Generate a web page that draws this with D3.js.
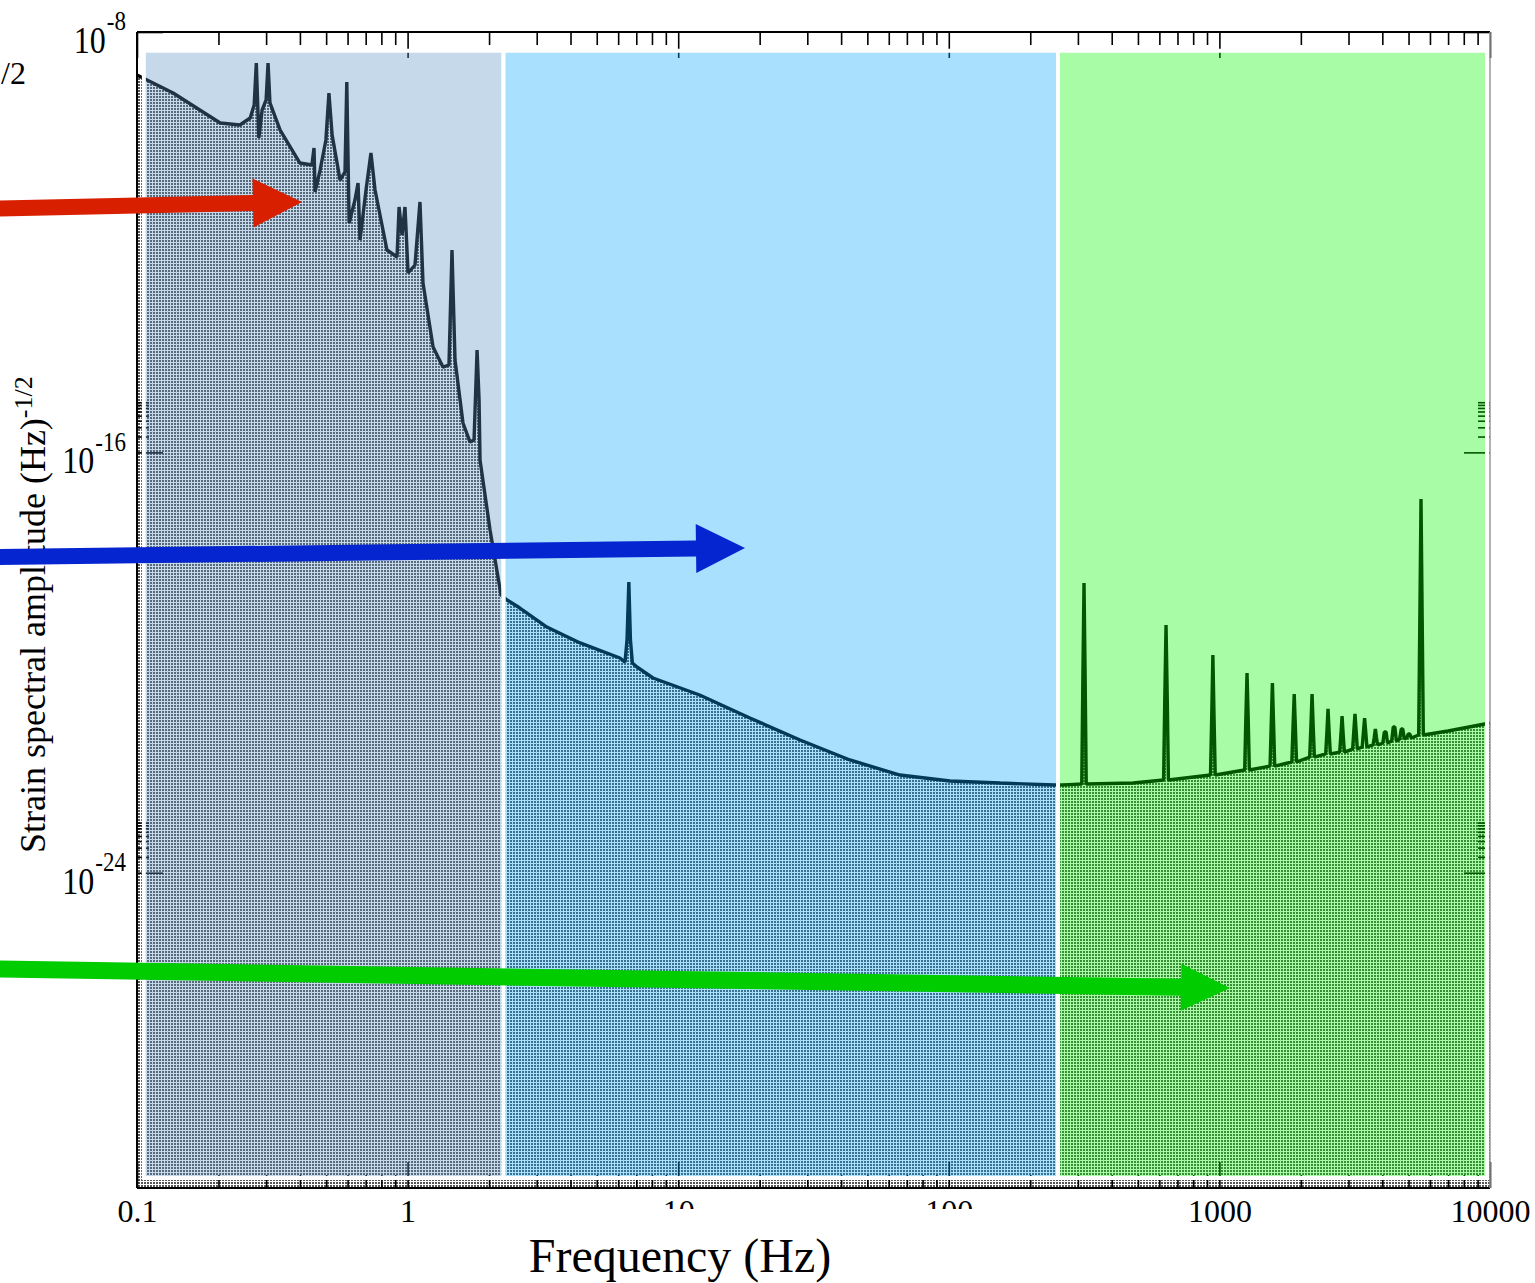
<!DOCTYPE html>
<html><head><meta charset="utf-8">
<script src="https://cdn.jsdelivr.net/npm/d3@7"></script>
<style>html,body{margin:0;padding:0;background:#fff;overflow:hidden}svg{display:block}</style>
</head><body>
<svg id="chart" width="1535" height="1283"></svg>
<script>
// ---------- data ----------
const lowFreq = [0.100,0.136,0.203,0.240,0.262,0.271,0.276,0.282,0.290,0.300,0.305,0.310,0.338,0.400,0.443,0.451,0.455,0.475,0.499,0.512,0.526,0.563,0.587,0.596,0.608,0.639,0.656,0.667,0.702,0.732,0.758,0.839,0.914,0.930,0.954,0.978,1.004,1.065,1.111,1.140,1.242,1.351,1.422,1.459,1.497,1.602,1.701,1.760,1.806,1.837,1.852,2.017,2.214];
const lowAmp = [1.52e-9,6.90e-10,1.85e-10,1.70e-10,2.31e-10,4.08e-10,2.57e-9,9.61e-11,3.28e-10,5.08e-10,2.57e-9,4.46e-10,1.36e-10,3.21e-11,2.94e-11,6.20e-11,9.02e-12,2.36e-11,8.81e-11,6.90e-10,1.10e-10,1.52e-11,2.17e-11,1.12e-9,2.32e-12,6.35e-12,1.34e-11,1.10e-12,9.84e-12,4.98e-11,9.84e-12,7.10e-13,5.22e-13,4.68e-12,1.37e-12,4.68e-12,2.59e-13,3.68e-13,5.82e-12,1.67e-13,1.01e-14,4.21e-15,4.60e-15,7.10e-13,5.73e-15,3.62e-16,1.57e-16,1.72e-16,8.87e-15,9.91e-16,7.16e-17,3.33e-18,1.93e-19];

const midFreq = [2.33,2.60,3.27,4.34,6.09,6.36,6.47,6.57,6.66,6.77,7.04,8.07,12.0,18.4,28.2,43.1,66.0,101,155,247];
const midAmp = [1.55e-19,1.09e-19,4.74e-20,2.36e-20,1.22e-20,1.02e-20,2.69e-20,3.41e-19,2.69e-20,9.8e-21,8.22e-21,5.08e-21,2.41e-21,8.79e-22,3.36e-22,1.40e-22,7.24e-23,5.57e-23,5.09e-23,4.67e-23];

const highFreq = [262,290,
  310,313,316,319,322, 480,
  622,628,635,642,648,
  927,937,946,955,965,
  1240,1252,1265,1278,1290,
  1539,1554,1570,1586,1601,
  1852,1871,1890,1909,1928,
  2156,2178,2200,2222,2244,
  2470,2495,2520,2545,2570,
  2783,2812,2840,2868,2897,
  3107,3138,3170,3202,3233,
  3371,3406,3440,3474,3509,
  3695,3732,3770,3808,3845,
  4018,4070,4130,4182,
  4332,4390,4450,4508,
  4635,4700,4760,4825,
  4920,4990,5050,5120,
  5450,5505,5560,5615,5670,
  7000,10000];
const highAmp = [4.67e-23,4.8e-23,
  4.88e-23,5.31e-21,3.27e-19,5.31e-21,4.88e-23, 5.09e-23,
  5.82e-23,1.70e-21,5.18e-20,1.70e-21,5.82e-23,
  7.24e-23,1.0e-21,1.39e-20,1.0e-21,7.24e-23,
  9.02e-23,8.05e-22,6.32e-21,8.05e-22,9.02e-23,
  1.07e-22,6.47e-22,4.08e-21,6.47e-22,1.07e-22,
  1.28e-22,5.93e-22,2.52e-21,5.93e-22,1.28e-22,
  1.59e-22,5.93e-22,2.52e-21,5.93e-22,1.59e-22,
  1.82e-22,4.56e-22,1.31e-21,4.56e-22,1.82e-22,
  1.98e-22,4.18e-22,9.59e-22,4.18e-22,1.98e-22,
  2.26e-22,4.98e-22,1.05e-21,4.98e-22,2.26e-22,
  2.47e-22,4.76e-22,8.79e-22,4.76e-22,2.47e-22,
  2.70e-22,3.66e-22,5.43e-22,3.66e-22,2.70e-22,
  2.94e-22,4.76e-22,4.76e-22,2.94e-22,
  3.21e-22,5.93e-22,5.93e-22,3.21e-22,
  3.51e-22,5.43e-22,5.43e-22,3.51e-22,
  3.66e-22,4.37e-22,4.37e-22,3.66e-22,
  4.18e-22,7.05e-20,1.29e-17,7.05e-20,4.18e-22,
  4.98e-22,7.06e-22];

// frequency bands (shaded regions)
const bandStart = [0.106, 2.262, 253.3];
const bandEnd = [2.262, 253.3, 9750];
const bandTop = 4.4e-9;
const bandBottom = 1.55e-30;
const bandColors = ["#5992c3", "#06a6f9", "#06f600"];

// ticks
const xMajor = [0.1, 1, 10, 100, 1000, 10000];
const xTickLabels = ["0.1", "1", "10", "100", "1000", "10000"];
const yMajor = [1e-8, 1e-16, 1e-24];
const yTickExp = ["-8", "-16", "-24"];

// ---------- drawing ----------
const FONT = "'Liberation Serif','Times New Roman',serif";
const svg = d3.select("#chart");
const x = d3.scaleLog().domain([0.1, 10000]).range([137, 1490]);
const y = d3.scaleLog().domain([1e-30, 1e-8]).range([1188, 32]);

svg.append("rect").attr("width", 1535).attr("height", 1283).attr("fill", "#fff");

const defs = svg.append("defs");
const pat = defs.append("pattern").attr("id", "dots").attr("patternUnits", "userSpaceOnUse")
  .attr("width", 3).attr("height", 3);
pat.append("rect").attr("x", 0).attr("y", 0).attr("width", 2).attr("height", 2).attr("fill", "#555");
// clip for the x tick labels hidden by the title area
defs.append("clipPath").attr("id", "tickclip").append("path")
  .attr("d", "M0,1188 H1535 V1283 H1005 V1209 H515 V1283 H0 Z");

const series = [];
lowFreq.forEach((f, i) => series.push({f, a: lowAmp[i]}));
midFreq.forEach((f, i) => series.push({f, a: midAmp[i]}));
highFreq.forEach((f, i) => series.push({f, a: highAmp[i]}));

const area = d3.area().x(d => x(d.f)).y0(y(1e-30)).y1(d => y(d.a));
svg.append("path").datum(series).attr("d", area).attr("fill", "url(#dots)");

const line = d3.line().x(d => x(d.f)).y(d => y(d.a));
svg.append("path").datum(series).attr("d", line).attr("fill", "none")
  .attr("stroke", "#000").attr("stroke-width", 3.4).attr("stroke-linejoin", "bevel");

// axes (ticks)
const xMinor = x.ticks().filter(t => !xMajor.some(m => Math.abs(m - t) / m < 1e-6));
const yMinor = yMajor.flatMap(m => [2,3,4,5,6,7,8,9].map(k => k * m)).filter(v => v <= 1e-8 * 1.0001 && v >= 1e-30);

function styleAxis(g) {
  g.select(".domain").remove();
  g.selectAll("line").attr("stroke", "#000").attr("stroke-width", 1.6);
}
function addAxis(gen, tx, ty) {
  return svg.append("g").attr("transform", `translate(${tx},${ty})`).call(gen).call(styleAxis);
}
addAxis(d3.axisTop(x).tickValues(xMajor).tickSize(-26).tickFormat(""), 0, 32);
addAxis(d3.axisTop(x).tickValues(xMinor).tickSize(-13).tickFormat(""), 0, 32);
addAxis(d3.axisBottom(x).tickValues(xMinor).tickSize(-13).tickFormat(""), 0, 1188);
addAxis(d3.axisBottom(x).tickValues(xMajor).tickSize(-26).tickFormat(""), 0, 1188);

addAxis(d3.axisLeft(y).tickValues(yMajor).tickSize(-26).tickFormat(""), 137, 0);
addAxis(d3.axisLeft(y).tickValues(yMinor).tickSize(-12).tickFormat(""), 137, 0);
addAxis(d3.axisRight(y).tickValues(yMajor).tickSize(-26).tickFormat(""), 1490, 0);
addAxis(d3.axisRight(y).tickValues(yMinor).tickSize(-12).tickFormat(""), 1490, 0);

// shaded bands overlay
svg.selectAll("rect.band").data(bandStart).join("rect").attr("class", "band")
  .attr("x", (d, i) => x(bandStart[i]))
  .attr("width", (d, i) => x(bandEnd[i]) - x(bandStart[i]))
  .attr("y", y(bandTop))
  .attr("height", y(bandBottom) - y(bandTop))
  .attr("fill", (d, i) => bandColors[i]).attr("fill-opacity", 0.35)
  .attr("stroke", "#fff").attr("stroke-width", 4);

// frame
const [x0, x1] = x.range(), [y1, y0] = y.range();
svg.append("line").attr("x1", x0).attr("x2", x1).attr("y1", y0).attr("y2", y0).attr("stroke", "#000").attr("stroke-width", 2);
svg.append("line").attr("x1", x0).attr("x2", x1).attr("y1", y1).attr("y2", y1).attr("stroke", "#000").attr("stroke-width", 2);
svg.append("line").attr("x1", x0).attr("x2", x0).attr("y1", y0).attr("y2", y1).attr("stroke", "#000").attr("stroke-width", 2);
svg.append("line").attr("x1", x1).attr("x2", x1).attr("y1", y0).attr("y2", y1).attr("stroke", "#999").attr("stroke-width", 1.5);

// x tick labels (the two under the title area are cut off, as in the reference)
const xAxisLabels = svg.append("g").attr("transform", "translate(0,1188)")
  .call(d3.axisBottom(x).tickValues(xMajor).tickSize(0).tickPadding(11).tickFormat((d, i) => xTickLabels[i]))
  .call(g => g.select(".domain").remove())
  .attr("font-family", FONT).attr("font-size", 32);
xAxisLabels.selectAll("text").attr("fill", "#000");
svg.append("g").attr("clip-path", "url(#tickclip)").node().appendChild(xAxisLabels.node());

// y tick labels
svg.selectAll("text.ylab").data(yMajor).join("text").attr("class", "ylab")
  .attr("transform", d => `translate(126,${y(d) + 21}) scale(1,1.2)`)
  .attr("text-anchor", "end").attr("font-family", FONT).attr("font-size", 32).attr("fill", "#000")
  .each(function(d, i) {
    const t = d3.select(this);
    t.append("tspan").text("10");
    t.append("tspan").attr("font-size", 23).attr("dy", -19).attr("dx", 1).text(yTickExp[i]);
  });

// x title
svg.append("text").attr("x", 680).attr("y", 1272).attr("text-anchor", "middle")
  .attr("font-family", FONT).attr("font-size", 48).attr("fill", "#000").text("Frequency (Hz)");

// y title
const yt = svg.append("text").attr("transform", "translate(45,853) rotate(-90)")
  .attr("font-family", FONT).attr("font-size", 36).attr("fill", "#000");
yt.append("tspan").text("Strain spectral amplitude (Hz)");
yt.append("tspan").attr("font-size", 26).attr("dy", -13).text("-1/2");

// cropped fragment at top-left
svg.append("text").attr("x", 1).attr("y", 84).attr("font-family", FONT).attr("font-size", 32).attr("fill", "#000").text("/2");

// arrows (annotations)
const arrows = [
  {sx: -5, sy: 208.5, tx: 302, ty: 202, w: 16, L: 49, hw: 24.5, c: "#d81f00"},
  {sx: -5, sy: 557, tx: 745, ty: 548, w: 16, L: 49, hw: 24.5, c: "#0425cf"},
  {sx: -5, sy: 969, tx: 1230, ty: 988, w: 17, L: 49, hw: 23.5, c: "#00cc00"}
];
arrows.forEach(a => {
  const dx = a.tx - a.sx, dy = a.ty - a.sy, len = Math.hypot(dx, dy);
  const ux = dx / len, uy = dy / len, nx = -uy, ny = ux;
  const bx = a.tx - a.L * ux, by = a.ty - a.L * uy;
  const pts = [
    [a.sx + nx * a.w / 2, a.sy + ny * a.w / 2],
    [bx + nx * a.w / 2, by + ny * a.w / 2],
    [bx + nx * a.hw, by + ny * a.hw],
    [a.tx, a.ty],
    [bx - nx * a.hw, by - ny * a.hw],
    [bx - nx * a.w / 2, by - ny * a.w / 2],
    [a.sx - nx * a.w / 2, a.sy - ny * a.w / 2]
  ];
  svg.append("polygon").attr("points", pts.map(p => p.join(",")).join(" ")).attr("fill", a.c);
});
</script>
</body></html>
